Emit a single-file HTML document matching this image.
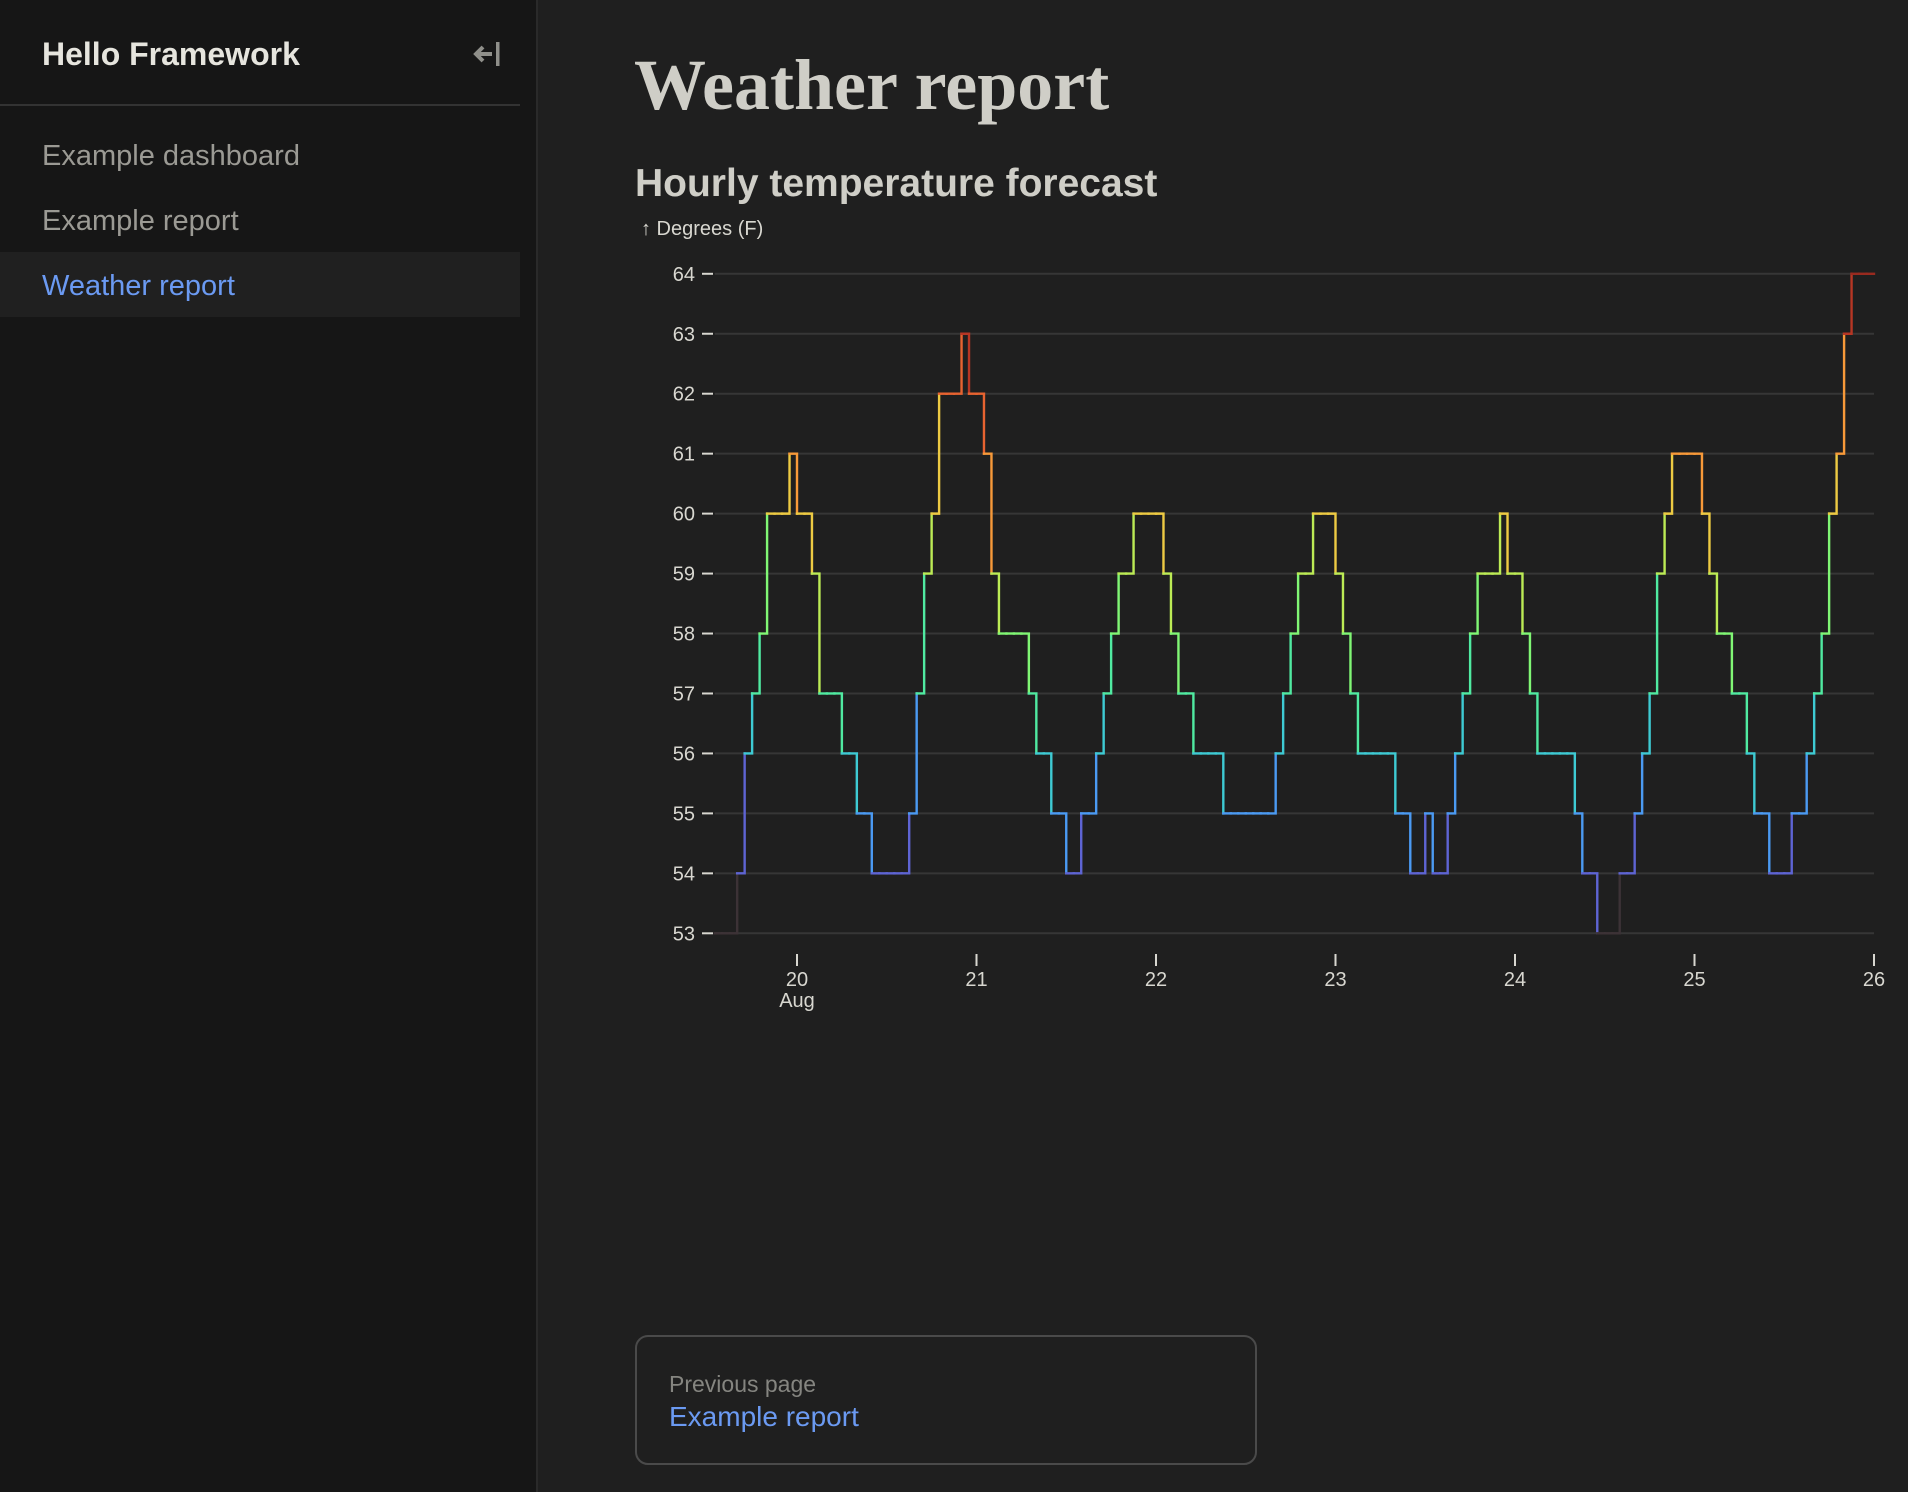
<!DOCTYPE html>
<html><head><meta charset="utf-8"><style>
html,body{margin:0;padding:0;width:1908px;height:1492px;overflow:hidden;background:#1f1f1f;font-family:"Liberation Sans",sans-serif;}
#sidebar{position:absolute;left:0;top:0;width:536px;height:1492px;background:#161616;border-right:2px solid #2a2a2a;}
.abs{position:absolute;white-space:nowrap;}
</style></head><body>
<div id="sidebar">
  <div class="abs" style="left:42px;top:36px;font-size:32px;font-weight:bold;color:#e6e5de;">Hello Framework</div>
  <svg class="abs" style="left:472px;top:39px" width="32" height="30" viewBox="0 0 32 30">
    <path d="M4 15 H20 M11 8 L4 15 L11 22" stroke="#8f8f8a" stroke-width="4" fill="none"/>
    <rect x="24" y="3" width="3.5" height="24" fill="#8f8f8a"/>
  </svg>
  <div class="abs" style="left:0;top:104px;width:520px;height:2px;background:#333;"></div>
  <div class="abs" style="left:42px;top:140px;font-size:29px;color:#9b9a94;">Example dashboard</div>
  <div class="abs" style="left:42px;top:205px;font-size:29px;color:#9b9a94;">Example report</div>
  <div class="abs" style="left:0;top:252px;width:520px;height:65px;background:#202020;"></div>
  <div class="abs" style="left:42px;top:270px;font-size:29px;color:#6b9af2;">Weather report</div>
</div>
<div class="abs" style="left:634px;top:44px;font-family:'Liberation Serif',serif;font-weight:bold;font-size:72px;color:#cfcec7;">Weather report</div>
<div class="abs" style="left:635px;top:162px;font-weight:bold;font-size:39px;color:#cfcec7;">Hourly temperature forecast</div>

<svg class="abs" id="chart" style="left:0;top:0" width="1908" height="1060" font-family="Liberation Sans, sans-serif"></svg>

<div class="abs" style="left:635px;top:1335px;width:622px;height:130px;border:2px solid #4a4a4a;border-radius:13px;box-sizing:border-box;">
  <div class="abs" style="left:32px;top:34px;font-size:23px;color:#858580;">Previous page</div>
  <div class="abs" style="left:32px;top:64px;font-size:28px;color:#6b9af2;">Example report</div>
</div>

<script>
const startHour = -11;
const temps = [53,53,53,
54,56,57,58,60,60,60,61,
60,60,59,57,57,57,56,56,55,55,54,54,54,54,54,
55,57,59,60,62,62,62,63,62,62,61,59,58,58,58,58,
57,56,56,55,55,54,54,55,55,56,57,58,59,59,60,60,60,60,
59,58,57,57,56,56,56,56,55,55,55,55,55,55,55,56,57,58,59,59,60,60,60,59,58,57,56,56,56,56,56,
55,55,54,54,55,54,54,55,56,57,58,59,59,59,60,59,59,58,57,56,56,56,56,56,55,54,54,53,53,53,54,54,55,56,57,59,60,61,61,61,61,60,59,58,58,57,57,56,55,55,54,54,54,55,55,56,57,58,60,61,63,64,64,64];
const yTicks = [53,54,55,56,57,58,59,60,61,62,63,64];
const dayTicks = [0,24,48,72,96,120,144];
const dayLabels = ["20","21","22","23","24","25","26"];
const monthLabel = "Aug";

const svg = document.getElementById('chart');
const NS = 'http://www.w3.org/2000/svg';
const X0 = 797, PX_PER_HOUR = 179.5/24;
const x = h => X0 + h*PX_PER_HOUR;
const yMin = 53, yMax = 64, Y0 = 933.3, Y1 = 273.8;
const y = v => Y0 + (v-yMin)/(yMax-yMin)*(Y1-Y0);
const hEnd = startHour + temps.length;
function turbo(t){t=Math.max(0,Math.min(1,t));
 const r=0.13572138+t*(4.61539260+t*(-42.66032258+t*(132.13108234+t*(-152.94239396+t*59.28637943))));
 const g=0.09140261+t*(2.19418839+t*(4.84296658+t*(-14.18503333+t*(4.27729857+t*2.82956604))));
 const b=0.10667330+t*(12.64194608+t*(-60.58204836+t*(110.36276771+t*(-89.90310912+t*27.34824973))));
 const c=v=>Math.round((0.12+0.85*Math.max(0,Math.min(1,v)))*255);
 return `rgb(${c(r)},${c(g)},${c(b)})`;}
function mk(tag,attrs){const e=document.createElementNS(NS,tag);for(const k in attrs)e.setAttribute(k,attrs[k]);svg.appendChild(e);return e;}

const yl = mk('text',{x:641,y:235,fill:'#d8d7d0','font-size':20});


yl.textContent = '↑ Degrees (F)';

yTicks.forEach(v=>{
  const g = mk('line',{x1:x(startHour),x2:x(hEnd),y1:y(v),y2:y(v),stroke:'#363636','stroke-width':2});
  
  
  const tk = mk('line',{x1:702,x2:713,y1:y(v),y2:y(v),stroke:'#d8d7d0','stroke-width':2});
  
  
  const t = mk('text',{x:695,y:y(v)+7,fill:'#d8d7d0','font-size':20,'text-anchor':'end'});
  
  
  t.textContent = v;
});

dayTicks.forEach((h,i)=>{
  const tk = mk('line',{x1:x(h),x2:x(h),y1:954,y2:966,stroke:'#d8d7d0','stroke-width':2});
  
  
  const t = mk('text',{x:x(h),y:986,fill:'#d8d7d0','font-size':20,'text-anchor':'middle'});
  
  
  t.textContent = dayLabels[i];
  if(i===0){
    const m = mk('text',{x:x(h),y:1007,fill:'#d8d7d0','font-size':20,'text-anchor':'middle'});
    
    
    m.textContent = monthLabel;
  }
});

temps.forEach((v,i)=>{
  const h = startHour+i;
  let d = `M${x(h)},${y(v)} H${x(h+1)}`;
  if(i<temps.length-1) d += ` V${y(temps[i+1])}`;
  const p = mk('path',{d:d,fill:'none',stroke:turbo((v-yMin)/(yMax-yMin)),'stroke-width':2.4,'stroke-linejoin':'miter','stroke-linecap':'square'});
  
  
});
</script>
</body></html>
